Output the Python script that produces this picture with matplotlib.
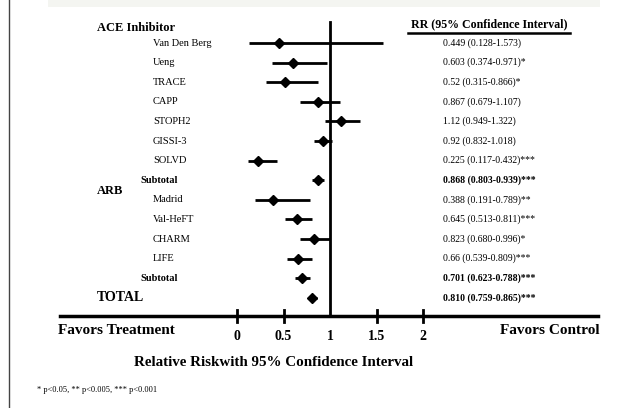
import matplotlib.pyplot as plt
import numpy as np

plt.rcParams['font.family'] = ['Liberation Serif', 'DejaVu Serif']

# study rows, top to bottom
ace_names = ["Van Den Berg", "Ueng", "TRACE", "CAPP", "STOPH2", "GISSI-3", "SOLVD"]
ace_rr = ["0.449", "0.603", "0.52", "0.867", "1.12", "0.92", "0.225"]
ace_lo = ["0.128", "0.374", "0.315", "0.679", "0.949", "0.832", "0.117"]
ace_hi = ["1.573", "0.971", "0.866", "1.107", "1.322", "1.018", "0.432"]
ace_sig = ["", "*", "*", "", "", "", "***"]
ace_sub = ["0.868", "0.803", "0.939", "***"]

arb_names = ["Madrid", "Val-HeFT", "CHARM", "LIFE"]
arb_rr = ["0.388", "0.645", "0.823", "0.66"]
arb_lo = ["0.191", "0.513", "0.680", "0.539"]
arb_hi = ["0.789", "0.811", "0.996", "0.809"]
arb_sig = ["**", "***", "*", "***"]
arb_sub = ["0.701", "0.623", "0.788", "***"]

total = ["0.810", "0.759", "0.865", "***"]

ticks = [0, 0.5, 1, 1.5, 2]

W, H = 629, 408
fig = plt.figure(figsize=(W / 100, H / 100), dpi=100)
ax = fig.add_axes([0, 0, 1, 1])
ax.axis('off')

# x in RR units: 0 sits at 237 px, 93 px per unit; rows 19.6 px apart from 43 px
x0, xs = 237, 93
y0, ys = 43, 19.6
ax.set_xlim(-x0 / xs, (W - x0) / xs)
ax.set_ylim((H - y0) / ys, -y0 / ys)


def px(x, y):
    return x / W, 1 - y / H


rows = []  # (label, rr, lo, hi, sig, kind)
for n, r, l, h, s in zip(ace_names, ace_rr, ace_lo, ace_hi, ace_sig):
    rows.append((n, r, l, h, s, 'study'))
rows.append(("Subtotal", *ace_sub, 'sub'))
for n, r, l, h, s in zip(arb_names, arb_rr, arb_lo, arb_hi, arb_sig):
    rows.append((n, r, l, h, s, 'study'))
rows.append(("Subtotal", *arb_sub, 'sub'))
rows.append(("TOTAL", *total, 'total'))

for i, (name, r, l, h, s, kind) in enumerate(rows):
    ax.plot([float(l), float(h)], [i, i], color='black', lw=2, solid_capstyle='butt')
    ax.plot(float(r), i, marker='D', ms=4.6, color='black')
    ypx = y0 + ys * i
    txt = f"{r} ({l}-{h}){s}"
    if kind == 'study':
        fig.text(*px(153, ypx), name, fontsize=7.5, va='center', ha='left')
        fig.text(*px(443, ypx), txt, fontsize=7, va='center', ha='left')
    elif kind == 'sub':
        fig.text(*px(140, ypx), name, fontsize=7.5, fontweight='bold', va='center', ha='left')
        fig.text(*px(443, ypx), txt, fontsize=7, fontweight='bold', va='center', ha='left')
    else:
        fig.text(*px(97, ypx), name, fontsize=10, fontweight='bold', va='center', ha='left')
        fig.text(*px(443, ypx), txt, fontsize=7, fontweight='bold', va='center', ha='left')

# group headers
fig.text(*px(97, 28), "ACE Inhibitor", fontsize=9, fontweight='bold', va='center')
fig.text(*px(97, 191), "ARB", fontsize=9, fontweight='bold', va='center')
fig.text(*px(489, 24), "RR (95% Confidence Interval)", fontsize=8.6,
         fontweight='bold', va='center', ha='center')
fig.add_artist(plt.Line2D([408 / W, 570 / W], [1 - 33 / H] * 2, color='black', lw=1.8))

# reference line at RR = 1 and the x axis
y_axis = (316 - y0) / ys
ax.plot([1, 1], [(22 - y0) / ys, y_axis], color='black', lw=2)
ax.plot([(60 - x0) / xs, (598 - x0) / xs], [y_axis, y_axis], color='black', lw=2.5)
for t in ticks:
    if t != 1:
        ax.plot([t, t], [y_axis - 0.3, y_axis + 0.3], color='black', lw=2)
    fig.text(*px(x0 + xs * t, 337), f"{t:g}", fontsize=10, fontweight='bold',
             ha='center', va='center')

fig.text(*px(58, 331), "Favors Treatment", fontsize=11, fontweight='bold', va='center')
fig.text(*px(600, 331), "Favors Control", fontsize=11, fontweight='bold',
         va='center', ha='right')
fig.text(*px(274, 363), "Relative Riskwith 95% Confidence Interval", fontsize=10.8,
         fontweight='bold', ha='center', va='center')
fig.text(*px(37, 390), "* p<0.05, ** p<0.005, *** p<0.001", fontsize=6, va='center')

# page edge on the left and faint strip along the top
fig.add_artist(plt.Line2D([8.5 / W, 8.5 / W], [0, 1], color='#444444', lw=1))
fig.add_artist(plt.Rectangle((48 / W, 1 - 7 / H), 552 / W, 7 / H, color='#f4f5f1', lw=0))

fig.savefig('out.png', dpi=100)
